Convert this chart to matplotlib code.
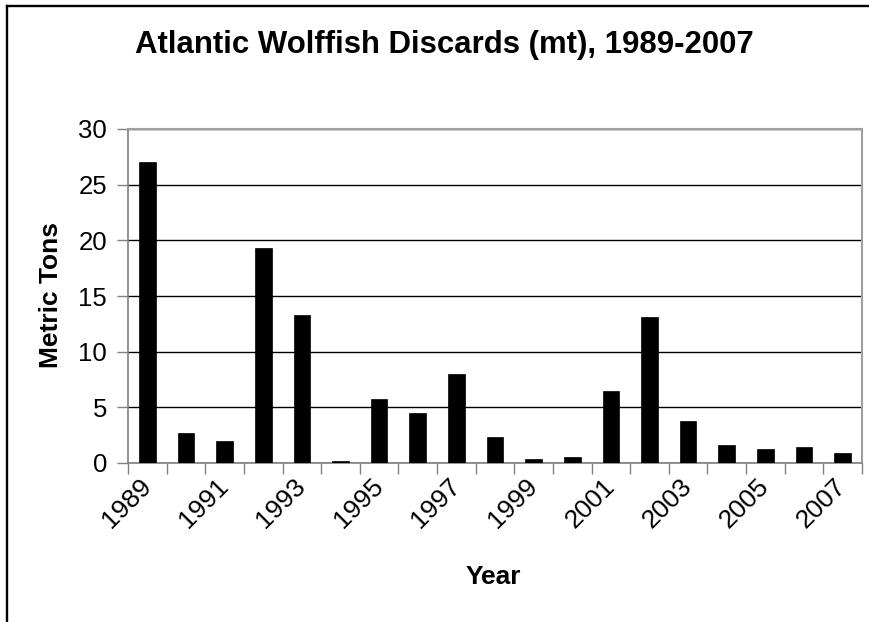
import matplotlib
matplotlib.use("Agg")
import matplotlib.pyplot as plt
from matplotlib.lines import Line2D
import numpy as np

plt.rcParams["font.family"] = ["Liberation Sans", "DejaVu Sans"]

years = [1989, 1990, 1991, 1992, 1993, 1994, 1995, 1996, 1997, 1998,
         1999, 2000, 2001, 2002, 2003, 2004, 2005, 2006, 2007]
discards_mt = [27.0, 2.7, 2.0, 19.3, 13.3, 0.2, 5.75, 4.5, 7.95, 2.35,
               0.4, 0.57, 6.5, 13.15, 3.8, 1.65, 1.3, 1.47, 0.93]
year_labels = [str(y) for y in years[::2]]

W, H = 869, 622
fig = plt.figure(figsize=(W / 100, H / 100), dpi=100)

# plot area in pixel coordinates
left, right, top, bottom = 128, 862, 129, 463
ax = fig.add_axes([left / W, 1 - bottom / H, (right - left) / W, (bottom - top) / H])

x = np.arange(len(years))
ax.bar(x, discards_mt, width=0.43, color="black", edgecolor="black",
       linewidth=0.5, zorder=3)

ax.set_xlim(-0.5, len(years) - 0.5)
ax.set_ylim(0, 30)
ax.set_yticks(np.arange(0, 31, 5))
ax.yaxis.grid(True, color="black", linewidth=1.0, zorder=0)
ax.set_axisbelow(True)

# category boundary ticks
ax.set_xticks(np.arange(-0.5, len(years), 1.0))
ax.set_xticklabels([])
ax.tick_params(axis="x", which="major", direction="out", length=8,
               width=1.0, color="#808080")
# labels at every other category
ax.set_xticks(x[::2], labels=year_labels, minor=True)
ax.tick_params(axis="x", which="minor", length=0, pad=14, labelsize=19)
for lbl in ax.get_xticklabels(minor=True):
    lbl.set_rotation(45)
    lbl.set_ha("right")
    lbl.set_va("center")
    lbl.set_rotation_mode("anchor")

ax.tick_params(axis="y", direction="out", length=8, width=1.0,
               color="#808080", labelsize=18.5, pad=7)

for side in ["left", "bottom"]:
    ax.spines[side].set_color("#808080")
    ax.spines[side].set_linewidth(1.2)
for side in ["top", "right"]:
    ax.spines[side].set_color("#a0a0a0")
    ax.spines[side].set_linewidth(1.5)

fig.text(444 / W, 1 - 45.5 / H, "Atlantic Wolffish Discards (mt), 1989-2007",
         ha="center", va="center", fontsize=22.4, fontweight="bold")
fig.text(51 / W, 1 - 295 / H, "Metric Tons", rotation=90,
         ha="center", va="center", fontsize=19, fontweight="bold")
fig.text(493 / W, 1 - 577 / H, "Year",
         ha="center", va="center", fontsize=19, fontweight="bold")

# chart-area border (left and top edges)
fig.add_artist(Line2D([7.5 / W, 7.5 / W], [0, 1 - 5.5 / H],
                      transform=fig.transFigure, color="black", linewidth=1.7))
fig.add_artist(Line2D([7.5 / W, 1], [1 - 5.5 / H, 1 - 5.5 / H],
                      transform=fig.transFigure, color="black", linewidth=1.7))

fig.savefig("out.png", dpi=100)
